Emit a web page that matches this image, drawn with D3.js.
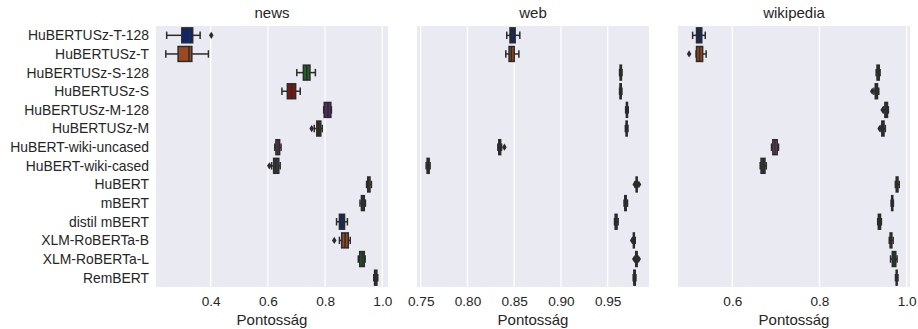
<!DOCTYPE html>
<html><head><meta charset="utf-8">
<script src="https://cdn.jsdelivr.net/npm/d3@7/dist/d3.min.js"></script>
<style>body{margin:0;background:#fff;}svg{display:block;font-family:"Liberation Sans",Arial,sans-serif;}</style>
</head><body><svg id="c" width="918" height="329"></svg>
<script>
const categories = ["HuBERTUSz-T-128","HuBERTUSz-T","HuBERTUSz-S-128","HuBERTUSz-S","HuBERTUSz-M-128","HuBERTUSz-M","HuBERT-wiki-uncased","HuBERT-wiki-cased","HuBERT","mBERT","distil mBERT","XLM-RoBERTa-B","XLM-RoBERTa-L","RemBERT"];
const panelTitles = ["news","web","wikipedia"];
// [whisker low, Q1, median, Q3, whisker high]
const newsStats = [
 [0.246,0.299,0.325,0.337,0.363],[0.243,0.286,0.324,0.334,0.392],[0.701,0.724,0.736,0.747,0.766],
 [0.649,0.668,0.683,0.697,0.713],[0.795,0.797,0.810,0.820,0.822],[0.762,0.771,0.778,0.785,0.790],
 [0.624,0.628,0.635,0.641,0.646],[0.613,0.620,0.628,0.638,0.643],[0.945,0.949,0.953,0.957,0.962],
 [0.922,0.927,0.932,0.937,0.941],[0.840,0.850,0.862,0.868,0.878],[0.850,0.858,0.870,0.881,0.888],
 [0.916,0.921,0.930,0.937,0.940],[0.970,0.973,0.977,0.981,0.984]];
const newsOutliers = [[0.402],[],[],[],[],[0.753],[],[0.605],[],[],[],[0.832],[],[]];
const webStats = [
 [0.842,0.8455,0.848,0.851,0.856],[0.841,0.8445,0.847,0.850,0.855],[0.9627,0.9633,0.964,0.9647,0.9653],
 [0.9627,0.9632,0.9638,0.9645,0.9652],[0.9692,0.970,0.9706,0.9712,0.972],[0.9689,0.9697,0.9703,0.9708,0.9717],
 [0.8325,0.8335,0.8345,0.8355,0.8365],[0.7558,0.7568,0.758,0.759,0.760],[0.9795,0.9805,0.981,0.9815,0.982],
 [0.9675,0.9683,0.969,0.9698,0.9712],[0.9573,0.958,0.959,0.960,0.9612],[0.977,0.9775,0.978,0.9785,0.9795],
 [0.9795,0.980,0.9808,0.9815,0.9822],[0.9773,0.978,0.9788,0.9795,0.9802]];
const webOutliers = [[],[],[],[],[],[],[0.8395],[],[0.979,0.9835],[],[],[0.9762],[0.9785,0.9832],[]];
const wikiStats = [
 [0.509,0.518,0.524,0.530,0.538],[0.517,0.518,0.525,0.532,0.540],[0.930,0.932,0.935,0.937,0.939],
 [0.925,0.928,0.930,0.933,0.936],[0.947,0.950,0.953,0.956,0.958],[0.941,0.943,0.946,0.948,0.951],
 [0.690,0.693,0.698,0.703,0.706],[0.664,0.666,0.671,0.675,0.678],[0.974,0.976,0.978,0.980,0.983],
 [0.9643,0.9655,0.967,0.968,0.9695],[0.9335,0.935,0.9375,0.940,0.942],[0.960,0.962,0.964,0.966,0.969],
 [0.963,0.967,0.971,0.975,0.978],[0.9743,0.976,0.977,0.978,0.980]];
const wikiOutliers = [[],[0.501],[],[0.921],[0.945],[0.938],[],[],[],[],[],[],[],[]];
const newsTicks = [0.4,0.6,0.8,1.0];
const webTicks = [0.75,0.80,0.85,0.90,0.95];
const wikiTicks = [0.6,0.8,1.0];
const xLabel = "Pontosság";
const palette = ["#10256f","#9c4822","#1e6525","#7a1711","#552867","#4f3016","#94437c","#3c3c3c","#a27c20","#0f5966"];

const panels = [
 {title:panelTitles[0], stats:newsStats, out:newsOutliers, ticks:newsTicks, fmt:d3.format(".1f"), dom:[0.2087,1.0199], x0:156, x1:388},
 {title:panelTitles[1], stats:webStats, out:webOutliers, ticks:webTicks, fmt:d3.format(".2f"), dom:[0.746,0.9942], x0:417, x1:649},
 {title:panelTitles[2], stats:wikiStats, out:wikiOutliers, ticks:wikiTicks, fmt:d3.format(".1f"), dom:[0.4755,1.0076], x0:678, x1:910}
];
const plotTop = 26, plotBottom = 287;
const svg = d3.select("#c");
const y = d3.scalePoint().domain(categories).range([plotTop,plotBottom]).padding(0.5);
const step = y.step();
const bw = step*0.8;
const lc = "#2b2b2b", txt = "#262626";

panels.forEach((p,pi)=>{
  const x = d3.scaleLinear().domain(p.dom).range([p.x0,p.x1]);
  const g = svg.append("g");
  g.append("rect").attr("x",p.x0).attr("y",plotTop).attr("width",p.x1-p.x0).attr("height",plotBottom-plotTop).attr("fill","#eaeaf2");
  g.selectAll("line.grid").data(p.ticks).join("line").attr("class","grid")
   .attr("x1",d=>x(d)).attr("x2",d=>x(d)).attr("y1",plotTop).attr("y2",plotBottom)
   .attr("stroke","#fff").attr("stroke-width",1.25);
  const ax = d3.axisBottom(x).tickValues(p.ticks).tickFormat(p.fmt).tickSize(0).tickPadding(9);
  const axg = g.append("g").attr("transform",`translate(0,${plotBottom})`).call(ax);
  axg.select(".domain").remove();
  axg.selectAll("text").attr("font-size","13.6px").attr("fill",txt).attr("font-family","Liberation Sans, Arial, sans-serif");
  g.append("text").attr("x",(p.x0+p.x1)/2).attr("y",325).attr("text-anchor","middle").attr("font-size","15px").attr("fill",txt).text(xLabel);
  g.append("text").attr("x",(p.x0+p.x1)/2).attr("y",18).attr("text-anchor","middle").attr("font-size","15px").attr("fill",txt).text(p.title);
  if(pi===0){
    const ay = d3.axisLeft(y).tickSize(0).tickPadding(7);
    const ayg = g.append("g").attr("transform",`translate(${p.x0},0)`).call(ay);
    ayg.select(".domain").remove();
    ayg.selectAll("text").attr("font-size","13.9px").attr("fill",txt).attr("font-family","Liberation Sans, Arial, sans-serif");
  }
  const cg = g.append("g");
  categories.forEach((c,i)=>{
    const s = p.stats[i], cy = y(c), col = palette[i%palette.length];
    const b = cg.append("g");
    b.append("line").attr("x1",x(s[0])).attr("x2",x(s[1])).attr("y1",cy).attr("y2",cy).attr("stroke",lc).attr("stroke-width",1.5);
    b.append("line").attr("x1",x(s[3])).attr("x2",x(s[4])).attr("y1",cy).attr("y2",cy).attr("stroke",lc).attr("stroke-width",1.5);
    [s[0],s[4]].forEach(v=>b.append("line").attr("x1",x(v)).attr("x2",x(v)).attr("y1",cy-bw/4).attr("y2",cy+bw/4).attr("stroke",lc).attr("stroke-width",1.5));
    b.append("rect").attr("x",x(s[1])).attr("y",cy-bw/2).attr("width",Math.max(0.1,x(s[3])-x(s[1]))).attr("height",bw)
      .attr("fill",col).attr("stroke",lc).attr("stroke-width",1.5);
    b.append("line").attr("x1",x(s[2])).attr("x2",x(s[2])).attr("y1",cy-bw/2).attr("y2",cy+bw/2).attr("stroke",lc).attr("stroke-width",1.5);
    p.out[i].forEach(v=>{
      const ox = x(v);
      b.append("path").attr("d",`M${ox},${cy-3.6}L${ox+2.3},${cy}L${ox},${cy+3.6}L${ox-2.3},${cy}Z`).attr("fill",lc);
    });
  });
});
</script></body></html>
